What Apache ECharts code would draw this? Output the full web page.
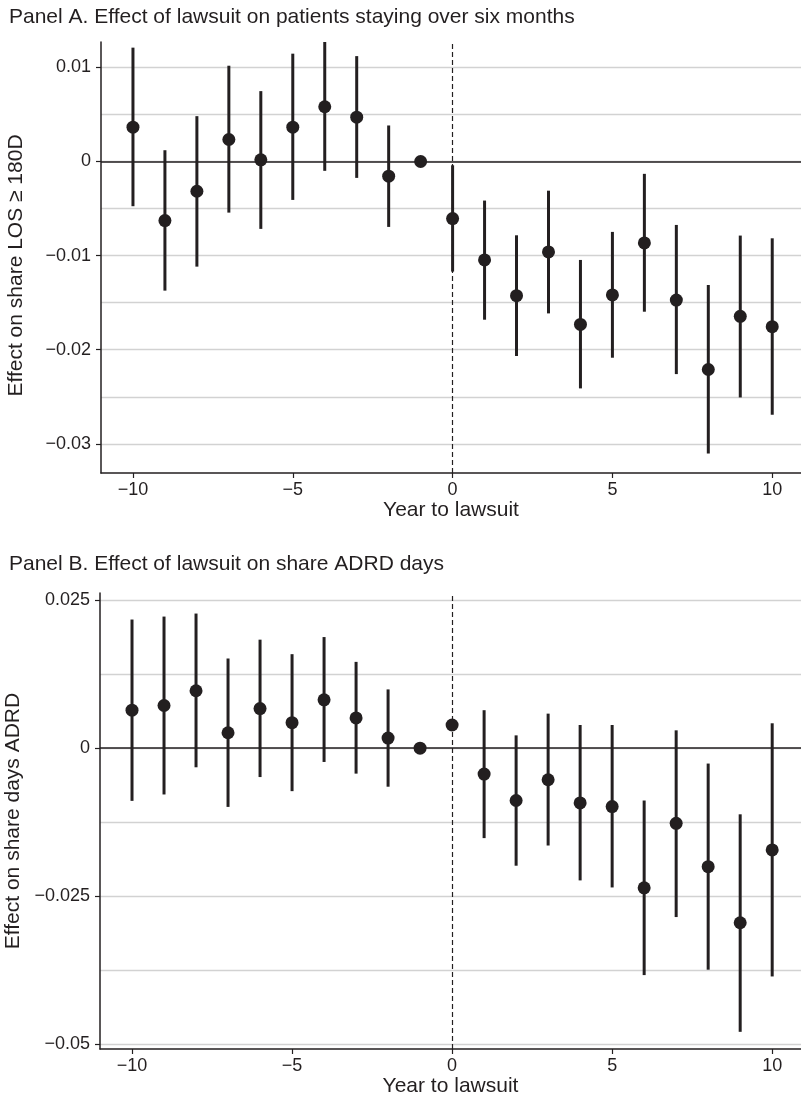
<!DOCTYPE html>
<html>
<head>
<meta charset="utf-8">
<script src="https://cdn.jsdelivr.net/npm/echarts@6/dist/echarts.min.js"></script>
<style>
  html, body { margin: 0; padding: 0; background: #fff; }
  #chart { width: 801px; height: 1098px; }
</style>
</head>
<body>
<div id="chart"></div>
<script>
// years relative to the lawsuit
const years = [-10, -9, -8, -7, -6, -5, -4, -3, -2, -1, 0, 1, 2, 3, 4, 5, 6, 7, 8, 9, 10];

// Panel A: share LOS >= 180D (point estimate, lower / upper CI)
const estA = [0.00365, -0.00628, -0.00316, 0.00234, 0.00018, 0.00365, 0.00582, 0.00471, -0.00156, 0,
  -0.00606, -0.01046, -0.01426, -0.00961, -0.01731, -0.01418, -0.00865, -0.01472, -0.0221, -0.01645, -0.01755];
const loA = [-0.00475, -0.01372, -0.01117, -0.00543, -0.00716, -0.00408, -0.00099, -0.00174, -0.00695, null,
  -0.0117, -0.01681, -0.02067, -0.01614, -0.02411, -0.02085, -0.01596, -0.02259, -0.03103, -0.02507, -0.02691];
const hiA = [0.0121, 0.0012, 0.00482, 0.01018, 0.00748, 0.01146, 0.0127, 0.0112, 0.00383, null,
  -0.0004, -0.00415, -0.00784, -0.0031, -0.01046, -0.00748, -0.00131, -0.00674, -0.01312, -0.00787, -0.00816];

// Panel B: share ADRD days
const estB = [0.00641, 0.0072, 0.00969, 0.0026, 0.00668, 0.0043, 0.00816, 0.0051, 0.0017, 0,
  0.00391, -0.00437, -0.00884, -0.00533, -0.00924, -0.00986, -0.02358, -0.0127, -0.02001, -0.02948, -0.01718];
const loB = [-0.0089, -0.00782, -0.00323, -0.00992, -0.00488, -0.00726, -0.00233, -0.0043, -0.00651, null,
  null, -0.01519, -0.01985, -0.01644, -0.02233, -0.02352, -0.03832, -0.02852, -0.03741, -0.0479, -0.03855];
const hiB = [0.02172, 0.02222, 0.02273, 0.01514, 0.01832, 0.01587, 0.01876, 0.01457, 0.00992, null,
  null, 0.00641, 0.00216, 0.00583, 0.00391, 0.00391, -0.00884, 0.00301, -0.0026, -0.01117, 0.0042];

// ticks
const xTicks = [-10, -5, 0, 5, 10];
const yTicksA = [-0.03, -0.02, -0.01, 0, 0.01];
const yGridA = [-0.025, -0.015, -0.005, 0.005];
const yTicksB = [-0.05, -0.025, 0, 0.025];
const yGridB = [-0.0375, -0.0125, 0.0125];

const ink = '#231f20';
const font = '"Liberation Sans", Arial, Helvetica, sans-serif';
const minus = v => (v < 0 ? '\u2212' : '') + Math.abs(v);

const chart = echarts.init(document.getElementById('chart'));

const xAxisFor = (gridIndex, nameGap) => ({
  type: 'value', gridIndex: gridIndex, min: -11, max: 10.9,
  name: 'Year to lawsuit', nameLocation: 'middle', nameGap: nameGap,
  nameTextStyle: { fontSize: 21, color: ink, fontFamily: font },
  axisLine: { show: true, onZero: false, lineStyle: { color: ink, width: 1.5 } },
  axisTick: { show: true, length: 5, customValues: xTicks, lineStyle: { color: ink, width: 1.2 } },
  axisLabel: { customValues: xTicks, margin: 8, fontSize: 18, color: ink, fontFamily: font, formatter: minus },
  splitLine: { show: false }
});

const yMainFor = (gridIndex, min, max, ticks, name, pad) => ({
  type: 'value', gridIndex: gridIndex, position: 'left', min: min, max: max,
  name: name, nameLocation: 'middle', nameGap: 74,
  nameTextStyle: { fontSize: 21, color: ink, fontFamily: font, padding: pad },
  axisLine: { show: true, onZero: false, lineStyle: { color: ink, width: 1.5 } },
  axisTick: { show: true, length: 5, customValues: ticks, lineStyle: { color: ink, width: 1.2 } },
  axisLabel: { customValues: ticks, margin: 10, fontSize: 18, color: ink, fontFamily: font, formatter: minus },
  splitLine: { show: true, lineStyle: { color: '#d2d2d2', width: 1.3 } }
});

// second axis only for the intermediate grid lines
const yMinorFor = (gridIndex, min, max, grid) => ({
  type: 'value', gridIndex: gridIndex, position: 'right', min: min, max: max,
  axisLine: { show: false, onZero: false },
  axisTick: { show: false, customValues: grid },
  axisLabel: { show: false, customValues: grid },
  splitLine: { show: true, lineStyle: { color: '#d2d2d2', width: 1.3 } }
});

const errorBars = (params, api) => {
  const p1 = api.coord([api.value(0), api.value(1)]);
  const p2 = api.coord([api.value(0), api.value(2)]);
  return {
    type: 'line',
    shape: { x1: p1[0], y1: p1[1], x2: p2[0], y2: p2[1] },
    style: { stroke: ink, lineWidth: 3 }
  };
};

const barData = (lo, hi) => years.map((y, i) => [y, lo[i], hi[i]]).filter(d => d[1] != null);

const panelSeries = (idx, est, lo, hi) => [
  {
    type: 'line', xAxisIndex: idx, yAxisIndex: idx * 2, data: [], silent: true,
    markLine: {
      silent: true, symbol: 'none', label: { show: false },
      data: [
        { yAxis: 0, lineStyle: { type: 'solid', color: ink, width: 1.5 } },
        { xAxis: 0, lineStyle: { type: [5, 3], color: ink, width: 1.2 } }
      ]
    }
  },
  {
    type: 'custom', xAxisIndex: idx, yAxisIndex: idx * 2, z: 6, clip: true,
    renderItem: errorBars, data: barData(lo, hi)
  },
  {
    type: 'scatter', xAxisIndex: idx, yAxisIndex: idx * 2, z: 7,
    symbolSize: 13, itemStyle: { color: ink, opacity: 1 },
    data: years.map((y, i) => [y, est[i]])
  }
];

const option = {
  animation: false,
  backgroundColor: '#fff',
  textStyle: { fontFamily: font },
  title: [
    { text: 'Panel A. Effect of lawsuit on patients staying over six months', left: 4, top: 2,
      textStyle: { fontSize: 21, fontWeight: 'normal', color: ink, fontFamily: font } },
    { text: 'Panel B. Effect of lawsuit on share ADRD days', left: 4, top: 549,
      textStyle: { fontSize: 21, fontWeight: 'normal', color: ink, fontFamily: font } }
  ],
  grid: [
    { left: 101, right: 0, top: 42, height: 431, outerBoundsMode: 'none', containLabel: false },
    { left: 100, right: 0, top: 593, height: 456, outerBoundsMode: 'none', containLabel: false }
  ],
  xAxis: [xAxisFor(0, 26), xAxisFor(1, 27)],
  yAxis: [
    yMainFor(0, -0.0331, 0.0127, yTicksA, 'Effect on share LOS \u2265 180D', [0, 16, 0, 0]),
    yMinorFor(0, -0.0331, 0.0127, yGridA),
    yMainFor(1, -0.0508, 0.0262, yTicksB, 'Effect on share days ADRD', 0),
    yMinorFor(1, -0.0508, 0.0262, yGridB)
  ],
  series: [
    ...panelSeries(0, estA, loA, hiA),
    ...panelSeries(1, estB, loB, hiB)
  ]
};

chart.setOption(option);
</script>
</body>
</html>
